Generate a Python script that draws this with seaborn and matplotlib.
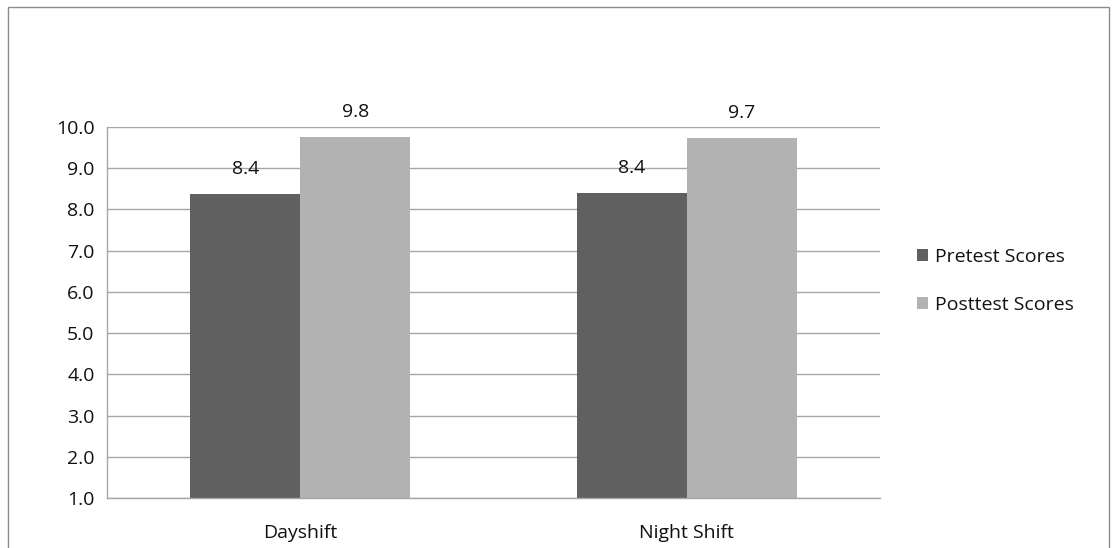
"""
Pretest vs posttest scores by shift - grouped bar chart.
"""

import pandas as pd
import matplotlib.pyplot as plt
from matplotlib.patches import Rectangle
import seaborn as sns

TURNOS = ["Dayshift", "Night Shift"]
SERIES = ["Pretest Scores", "Posttest Scores"]
PRETEST = [8.38, 8.41]
POSTTEST = [9.76, 9.73]
ROTULOS_PRE = ["8.4", "8.4"]
ROTULOS_POS = ["9.8", "9.7"]
Y_TICKS = [1.0, 2.0, 3.0, 4.0, 5.0, 6.0, 7.0, 8.0, 9.0, 10.0]

CORES = ["#606060", "#b2b2b2"]
CINZA = "#a6a6a6"
TEXTO = "#111111"
FS = 14


def montar_df():
    linhas = []
    for t, v in zip(TURNOS, PRETEST):
        linhas.append({"turno": t, "serie": SERIES[0], "valor": v})
    for t, v in zip(TURNOS, POSTTEST):
        linhas.append({"turno": t, "serie": SERIES[1], "valor": v})
    return pd.DataFrame(linhas)


def main():
    sns.set_style("white")
    plt.rcParams["font.family"] = ["Open Sans", "DejaVu Sans"]
    df = montar_df()

    fig = plt.figure(figsize=(11.13, 5.48), dpi=100)
    ax = fig.add_axes([107 / 1113, 50 / 548, 773 / 1113, 371 / 548])

    sns.barplot(data=df, x="turno", y="valor", hue="serie", order=TURNOS,
                hue_order=SERIES, palette=CORES, width=0.57, ax=ax,
                saturation=1)
    for p in ax.patches:
        p.set_edgecolor("none")

    ax.set_ylim(1.0, 10.0)
    ax.set_xlim(-0.5, 1.5)
    ax.set_yticks(Y_TICKS)
    ax.set_yticklabels([f"{v:.1f}" for v in Y_TICKS], fontsize=FS, color=TEXTO)
    ax.tick_params(axis="x", labelsize=FS, colors=TEXTO, length=0, pad=19)
    ax.tick_params(axis="y", length=0, pad=9)
    ax.set_xlabel("")
    ax.set_ylabel("")
    ax.yaxis.grid(True, color=CINZA, linewidth=1)
    ax.set_axisbelow(True)
    for lado in ["top", "right"]:
        ax.spines[lado].set_visible(False)
    for lado in ["left", "bottom"]:
        ax.spines[lado].set_color(CINZA)
        ax.spines[lado].set_linewidth(1)

    dx = 0.57 / 4
    for i in range(len(TURNOS)):
        ax.text(i - dx, PRETEST[i] + 0.6, ROTULOS_PRE[i], ha="center", va="center",
                fontsize=FS, color=TEXTO)
        ax.text(i + dx, POSTTEST[i] + 0.6, ROTULOS_POS[i], ha="center", va="center",
                fontsize=FS, color=TEXTO)

    leg = ax.legend(loc="center left", bbox_to_anchor=(1.025, 0.585), frameon=False,
                    fontsize=FS, handlelength=0.6, handleheight=0.6,
                    handletextpad=0.35, labelspacing=1.55)
    for t in leg.get_texts():
        t.set_color(TEXTO)

    fig.patches.append(Rectangle((7.5 / 1113, -0.1), 1101 / 1113, 1.1 - 7.5 / 548,
                                 transform=fig.transFigure, fill=False,
                                 edgecolor="#8c8c8c", linewidth=1))

    fig.savefig("out.png", dpi=100)
    plt.close(fig)


if __name__ == "__main__":
    main()
